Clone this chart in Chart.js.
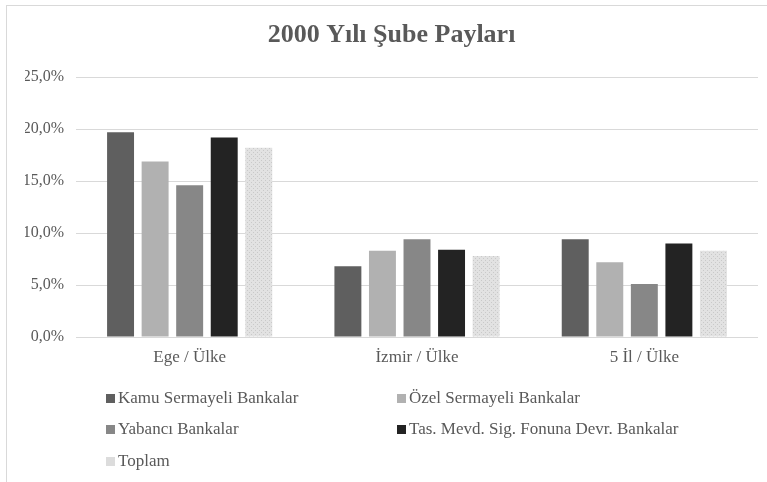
<!DOCTYPE html>
<html>
<head>
<meta charset="utf-8">
<script src="https://cdn.jsdelivr.net/npm/chart.js@4"></script>
<style>
  html, body { margin: 0; padding: 0; background: #fff; overflow: hidden; }
  #box {
    position: absolute; left: 6px; top: 5px; width: 772px; height: 477px;
    border-left: 1px solid #d9d9d9; border-top: 1px solid #d9d9d9;
  }
</style>
</head>
<body>
<div id="box"><canvas id="chart" width="772" height="477"></canvas></div>
<script>
const categories = ["Ege / Ülke", "İzmir / Ülke", "5 İl / Ülke"];
const seriesNames = [
  "Kamu Sermayeli Bankalar",
  "Özel Sermayeli Bankalar",
  "Yabancı Bankalar",
  "Tas. Mevd. Sig. Fonuna Devr. Bankalar",
  "Toplam"
];
const kamu = [19.7, 6.8, 9.4];
const ozel = [16.9, 8.3, 7.2];
const yabanci = [14.6, 9.4, 5.1];
const tmsf = [19.2, 8.4, 9.0];
const toplam = [18.2, 7.8, 8.3];
const yTicks = [0, 5, 10, 15, 20, 25];

const FONT = "'Liberation Serif', 'Times New Roman', serif";
const TEXT = "#595959";

// dotted fill for "Toplam"
function dotPattern() {
  const c = document.createElement("canvas");
  c.width = 4; c.height = 4;
  const g = c.getContext("2d");
  g.fillStyle = "#e2e2e2";
  g.fillRect(0, 0, 4, 4);
  g.fillStyle = "#c9c9c9";
  g.fillRect(0, 0, 1, 1);
  g.fillRect(2, 2, 1, 1);
  return g.createPattern(c, "repeat");
}

const colors = ["#5f5f5f", "#b1b1b1", "#878787", "#232323", dotPattern()];
const legendColors = ["#5f5f5f", "#b1b1b1", "#878787", "#232323", "#dcdcdc"];
const values = [kamu, ozel, yabanci, tmsf, toplam];

const legendPlugin = {
  id: "gridLegend",
  afterDraw(chart) {
    const ctx = chart.ctx;
    const area = chart.chartArea;
    const colX = [area.left + 30, area.left + 321];
    const rowY = [area.bottom + 61, area.bottom + 92, area.bottom + 124];
    ctx.save();
    ctx.font = "17px " + FONT;
    ctx.textBaseline = "middle";
    seriesNames.forEach((name, i) => {
      const x = colX[i % 2];
      const y = rowY[Math.floor(i / 2)];
      ctx.fillStyle = legendColors[i];
      ctx.fillRect(x, y - 4, 9, 9);
      ctx.fillStyle = TEXT;
      ctx.fillText(name, x + 12, y + 1);
    });
    ctx.restore();
  }
};

new Chart(document.getElementById("chart"), {
  type: "bar",
  data: {
    labels: categories,
    datasets: seriesNames.map((name, i) => ({
      label: name,
      data: values[i],
      backgroundColor: colors[i],
      borderWidth: 0,
      categoryPercentage: 0.76,
      barPercentage: 0.78
    }))
  },
  options: {
    responsive: false,
    animation: false,
    layout: { padding: { left: 18, right: 21, top: 0, bottom: 116 } },
    plugins: {
      legend: { display: false },
      tooltip: { enabled: false },
      title: {
        display: true,
        text: "2000 Yılı Şube Payları",
        color: TEXT,
        font: { family: FONT, size: 26, weight: "bold" },
        padding: { top: 14, bottom: 26 }
      }
    },
    scales: {
      x: {
        grid: { display: false, drawTicks: false },
        border: { display: false },
        ticks: { color: TEXT, font: { family: FONT, size: 17 }, padding: 10 },
        afterFit(scale) { scale.height = 30; }
      },
      y: {
        min: 0,
        max: 25,
        afterBuildTicks(scale) { scale.ticks = yTicks.map(v => ({ value: v })); },
        grid: { color: "#d9d9d9", lineWidth: 1, drawTicks: false },
        border: { display: false },
        ticks: {
          color: TEXT,
          font: { family: FONT, size: 16 },
          padding: 12,
          callback: v => v.toFixed(1).replace(".", ",") + "%"
        },
        afterFit(scale) { scale.width = 51; }
      }
    }
  },
  plugins: [legendPlugin]
});
</script>
</body>
</html>
